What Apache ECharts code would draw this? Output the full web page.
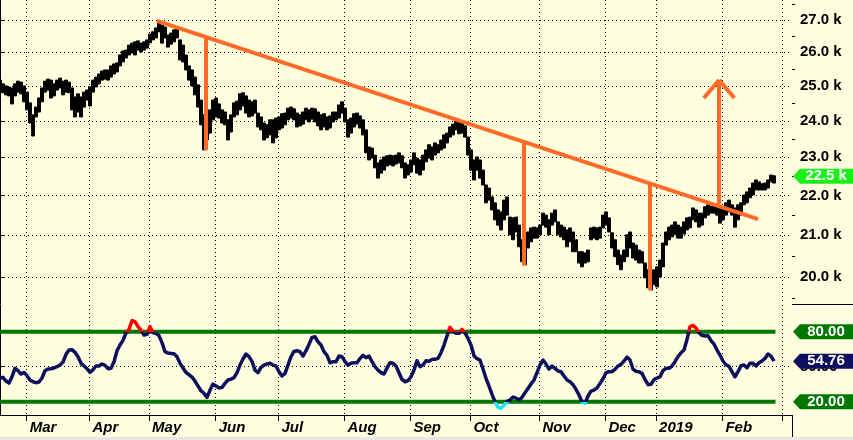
<!DOCTYPE html>
<html><head><meta charset="utf-8">
<script src="https://cdn.jsdelivr.net/npm/echarts@6/dist/echarts.min.js"></script>
<style>html,body{margin:0;padding:0;background:#e8e8e8;overflow:hidden}#c{width:853px;height:437px;}</style>
</head><body><div id="c"></div>
<script>
// ---- daily bar highs / lows (trading-day index 0..258) ----
const highs = [
25170,25060,25000,24970,24940,25060,25140,25110,25000,24820,
24510,24170,24390,24650,24940,25140,25200,25170,25060,25170,
25230,25140,25170,25110,24940,24680,24770,24680,24820,24880,
24970,25170,25260,25350,25440,25470,25470,25590,25650,25680,
25920,26040,26070,26220,26280,26320,26350,26280,26320,26380,
26560,26630,26750,26940,26840,26780,26530,26590,26690,26750,
26380,26220,25920,25590,25470,25260,25030,24590,24170,24110,
24310,24590,24650,24480,24310,24250,24030,24170,24510,24560,
24770,24800,24710,24590,24540,24590,24220,24110,23940,23890,
24030,24030,24080,24110,24200,24220,24360,24390,24340,24220,
24170,24250,24360,24310,24360,24340,24250,24170,24200,24110,
24140,24250,24250,24450,24540,24360,24030,24080,24200,24220,
24140,24030,23750,23280,23250,23060,22850,22930,23010,23040,
23060,23040,23060,23120,23040,22850,22800,22930,23120,22980,
22930,23060,23200,23340,23280,23390,23340,23470,23610,23660,
23830,23910,24030,23970,23940,23860,23550,23200,22930,23010,
22930,22660,22270,22190,21960,21810,21630,21580,21880,21960,
21450,21430,21450,21250,20890,20760,21080,21180,21200,21180,
21250,21550,21500,21380,21550,21630,21330,21250,21200,21130,
21180,21080,20890,20600,20600,20570,20640,21180,21200,21180,
21200,21500,21580,21430,21060,20890,20640,20520,20640,21010,
21080,20810,20760,20640,20600,20330,20170,20120,20170,20240,
20400,20810,21080,21200,21250,21330,21250,21200,21330,21430,
21450,21680,21630,21550,21550,21710,21760,21730,21760,21730,
21710,21710,21810,21880,21760,21680,21760,21810,22010,22090,
22190,22320,22400,22350,22300,22320,22400,22530,22510];
const lows = [
24820,24800,24740,24710,24480,24710,24820,24770,24540,24310,
23940,23580,24110,24250,24540,24820,24880,24650,24710,24880,
24940,24740,24820,24800,24310,24110,24250,24110,24390,24590,
24420,24820,24970,25060,25170,25200,25170,25260,25350,25410,
25590,25710,25830,25920,25980,25920,26070,26010,26070,26130,
26290,26380,26440,26630,26280,26440,26160,26250,26320,26440,
25770,25710,25470,25170,25000,24740,24390,23890,23200,23470,
23660,24030,24110,24080,23940,23890,23470,23690,24110,24170,
24310,24420,24220,24110,24140,24220,23830,23750,23470,23530,
23610,23390,23530,23750,23800,23890,24030,24080,24030,23830,
23860,23910,24030,23970,24050,23970,23860,23750,23830,23750,
23800,23970,24030,24080,24220,23970,23550,23660,23830,23910,
23800,23610,23120,22930,22980,22720,22450,22580,22660,22770,
22800,22770,22820,22850,22720,22450,22530,22610,22800,22580,
22530,22660,22880,22980,22930,23060,23120,23200,23250,23390,
23550,23610,23750,23640,23660,23550,23060,22660,22400,22660,
22450,22270,21810,21880,21630,21380,21250,21130,21380,21500,
21010,20890,21080,20720,20360,20290,20690,20840,20930,20930,
21010,21250,21200,21010,21250,21330,21010,20960,20890,20720,
20840,20600,20600,20330,20240,20330,20360,20890,20930,20890,
20930,21180,21250,21080,20690,20480,20290,20170,20360,20480,
20690,20450,20400,20330,20330,19980,19750,19700,19820,19770,
20000,20240,20760,20890,20960,21010,20930,20930,21030,21130,
21180,21380,21330,21200,21250,21430,21500,21550,21550,21500,
21300,21380,21500,21580,21500,21200,21380,21500,21760,21810,
21940,22010,22140,22140,22140,22140,22190,22350,22320];
const lastClose = 22500;

// ---- oscillator (0..100) ----
const rsi = [
40,40.9,37.7,36,41.4,48.6,46.6,43.7,45.1,42.3,
38.6,37.1,36.3,36.9,40.3,46.6,48,48.3,48.9,50,
51.4,54,60.6,64.3,64.6,62.3,58.6,52.9,50.6,48.3,
45.1,47.4,50.6,50.6,52.3,51.1,48.3,48.6,54.3,63.7,
68.6,72.6,79.1,82,89.4,88.6,84.3,81.4,77.1,77.7,
84.3,79.1,78.6,76.6,70.6,62.9,61.7,61.4,61.1,58.6,
52.9,48.9,45.1,43.1,41.1,37.7,33.4,29.4,27.1,23.7,
30,35.1,33.4,31.7,32.3,35.7,38.6,39.4,40.6,44.9,
51.4,56.6,60.9,58.6,54.6,47.1,44.9,49.4,51.4,52.3,
52.9,51.4,50.6,45.7,42,44.3,51.4,58.6,63.1,63.7,
62.9,59.1,63.7,69.1,75.1,75.7,71.4,68.6,62.9,59.7,
53.4,54.3,54.3,59.1,58.6,54.3,51.4,52.9,53.4,53.4,
57.1,59.7,57.7,59.1,54.3,50,47.1,44.9,43.7,48.9,
53.4,52.9,50.6,44.9,39.1,37.1,38,41.4,47.1,55.1,
50,51.4,55.1,54.6,56.3,56.3,57.1,62,68.6,76.3,
83.7,80.3,78.6,78.6,82,79.1,74.3,68.6,59.4,56.9,
55.7,48,40,33.4,26.3,20,15.1,14.3,16.9,20.3,
21.4,24,23.1,21.4,23.7,27.7,31.4,35.1,38.6,44.9,
51.4,55.7,52.3,48,50.6,48.6,46.3,45.7,42,38.6,
37.1,34.6,30.6,25.7,20,18.6,24.9,29.1,30,31.7,
35.7,39.7,44.9,45.7,45.7,47.7,50.6,52,54.9,58.3,
55.7,48,46,45.7,44.3,39.1,34.6,34.9,38.9,40.3,
41.4,46.6,48.6,48.6,50.6,54.3,58.6,62,64.3,73.4,
84.3,85.4,83.1,79.1,76.9,76.3,76.6,72.3,69.4,64.3,
60,54.9,51.7,50.3,45.7,41.4,45.7,50.9,51.4,49.1,
52.9,52.9,50.6,53.4,54.9,57.1,60.9,59.1,54.76];
const rsiLevels = [80, 20];

// ---- axes ----
const monthStarts = [8.9, 29.8, 49.7, 71.9, 92.8, 114.8, 136.8, 156.8, 179.8, 201.8, 218.7, 240.8, 260.9];
const monthLabels = ['Mar','Apr','May','Jun','Jul','Aug','Sep','Oct','Nov','Dec','2019','Feb'];
const priceTicks = [20000, 21000, 22000, 23000, 24000, 25000, 26000, 27000];
const priceMinorTicks = [19500, 20500, 21500, 22500, 23500, 24500, 25500, 26500, 27500];

// ---- drawn annotations (bar index, price) ----
const trendLine = [[52.3, 26970], [252.7, 21400]];
const dropLines = [
  [[68.7, 26420], [68.7, 23190]],
  [[174.7, 23410], [174.7, 20270]],
  [[216.7, 22330], [216.7, 19700]]
];
const targetArrow = [[239.7, 21780], [239.7, 25170]];
const arrowHead = [[234.6, 24650], [239.7, 25170], [244.8, 24650]];

const FONT = '"Liberation Sans", Arial, sans-serif';
const ORANGE = '#ff6a26';
const NAVY = '#0e0e5e';
const DKGREEN = '#007800';
const DOT = { color: '#000', width: 1, type: [1, 3] };
const XMAX = 264;
const badgePath = 'path://M0,7 L7,0 L60,0 L60,14 L7,14 Z';

function badge(coord, text, color) {
  return {
    coord: coord, value: coord[1],
    symbol: badgePath, symbolSize: [60, 15], symbolKeepAspect: false, symbolOffset: [31, 0],
    itemStyle: { color: color },
    label: { show: true, position: 'inside', offset: [3, 0], formatter: text, color: '#fff',
             fontFamily: FONT, fontWeight: 'bold', fontSize: 15 }
  };
}

const chart = echarts.init(document.getElementById('c'), null, { renderer: 'canvas' });
const lastIdx = highs.length - 1;

chart.setOption({
  backgroundColor: '#ffffe0',
  animation: false,
  grid: [
    { left: 0, right: 61, top: 0, height: 304 },
    { left: 0, right: 61, top: 305, height: 110 }
  ],
  xAxis: [
    { gridIndex: 0, type: 'value', min: 0, max: XMAX,
      axisLine: { show: false }, axisTick: { show: false, customValues: monthStarts },
      axisLabel: { show: false }, splitLine: { show: true, lineStyle: DOT } },
    { gridIndex: 1, type: 'value', min: 0, max: XMAX,
      axisLine: { show: true, onZero: false, lineStyle: { color: '#000', width: 1 } },
      axisTick: { show: true, customValues: monthStarts, length: 6, lineStyle: { color: '#000' } },
      axisLabel: { customValues: monthStarts.slice(0, monthLabels.length),
        formatter: v => monthLabels[monthStarts.indexOf(v)],
        align: 'left', padding: [0, 0, 0, 3], margin: 5,
        color: '#000', fontFamily: FONT, fontWeight: 'bold', fontStyle: 'italic', fontSize: 15 },
      splitLine: { show: true, lineStyle: DOT } }
  ],
  yAxis: [
    { gridIndex: 0, type: 'log', logBase: 10, position: 'right', min: 19380, max: 27638,
      axisLine: { show: true, lineStyle: { color: '#000', width: 1 } },
      axisTick: { show: true, customValues: priceTicks, length: 5, lineStyle: { color: '#000' } },
      axisLabel: { customValues: priceTicks, formatter: v => (v / 1000).toFixed(1) + ' k',
        margin: 8, color: '#000', fontFamily: FONT, fontWeight: 'bold', fontSize: 15 },
      splitLine: { show: true, lineStyle: DOT } },
    { gridIndex: 0, type: 'log', logBase: 10, position: 'right', min: 19380, max: 27638,
      axisLine: { show: false },
      axisTick: { show: true, customValues: priceMinorTicks, length: 3, lineStyle: { color: '#000' } },
      axisLabel: { show: false }, splitLine: { show: false } },
    { gridIndex: 1, type: 'value', position: 'right', min: 8.6, max: 102.9,
      axisLine: { show: true, lineStyle: { color: '#000', width: 1 } },
      axisTick: { show: true, customValues: [50], length: 5, lineStyle: { color: '#000' } },
      axisLabel: { customValues: [50], formatter: v => v.toFixed(2), margin: 8,
        color: '#000', fontFamily: FONT, fontWeight: 'bold', fontSize: 15 },
      splitLine: { show: true, lineStyle: DOT } }
  ],
  visualMap: {
    show: false, type: 'piecewise', seriesIndex: 1, dimension: 1,
    pieces: [
      { gt: 80, color: '#ff0000' },
      { lt: 20, color: '#22e4f4' },
      { gte: 20, lte: 80, color: NAVY }
    ]
  },
  series: [
    { type: 'candlestick', xAxisIndex: 0, yAxisIndex: 0, barWidth: 4,
      data: highs.map((h, i) => [i, lows[i], h, lows[i], h]),
      itemStyle: { color: '#000', color0: '#000', borderColor: '#000', borderColor0: '#000', borderWidth: 1 },
      emphasis: { disabled: true }, silent: true,
      markLine: {
        silent: true, symbol: 'none', label: { show: false }, emphasis: { disabled: true },
        lineStyle: { color: ORANGE, width: 4, type: 'solid', cap: 'butt' },
        data: [
          [{ coord: trendLine[0] }, { coord: trendLine[1] }],
          ...dropLines.map(l => [{ coord: l[0] }, { coord: l[1] }]),
          [{ coord: targetArrow[0] }, { coord: targetArrow[1] }],
          [{ coord: arrowHead[0] }, { coord: arrowHead[1] }],
          [{ coord: arrowHead[1] }, { coord: arrowHead[2] }]
        ]
      },
      markPoint: { silent: true, data: [badge([XMAX, lastClose], (lastClose / 1000).toFixed(1) + ' k', '#18f018')] }
    },
    { type: 'line', xAxisIndex: 1, yAxisIndex: 2, z: 3,
      data: rsi.map((v, i) => [i, v]), showSymbol: false, silent: true,
      lineStyle: { width: 3.5, join: 'round' },
      markPoint: { silent: true, data: [badge([XMAX, rsi[lastIdx]], rsi[lastIdx].toFixed(2), NAVY)] }
    },
    ...rsiLevels.map(lv => ({
      type: 'line', xAxisIndex: 1, yAxisIndex: 2, z: 2, silent: true, showSymbol: false,
      data: [[0, lv], [lastIdx + 0.5, lv]],
      lineStyle: { color: DKGREEN, width: 4 },
      markPoint: { silent: true, data: [badge([XMAX, lv], lv.toFixed(2), DKGREEN)] }
    }))
  ],
  graphic: [
    { type: 'line', shape: { x1: 792, y1: 304.5, x2: 853, y2: 304.5 }, style: { stroke: '#000', lineWidth: 1 }, silent: true },
    { type: 'line', shape: { x1: 792.5, y1: 415, x2: 792.5, y2: 437 }, style: { stroke: '#000', lineWidth: 1 }, silent: true }
  ]
});
</script>
</body></html>
